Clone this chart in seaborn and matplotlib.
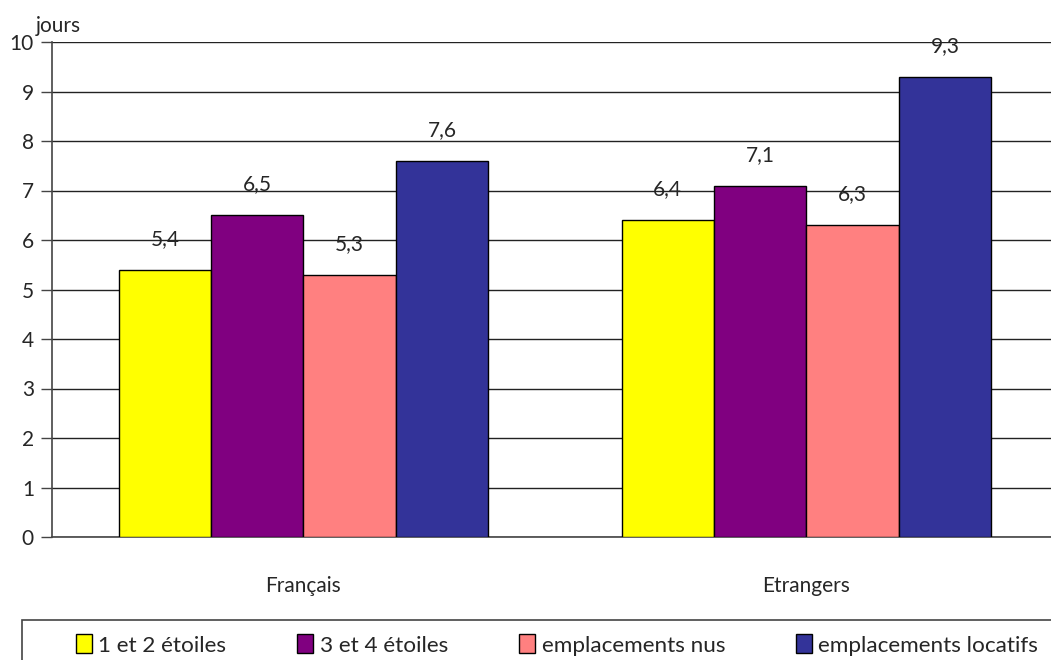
import pandas as pd
import numpy as np
import matplotlib.pyplot as plt
import seaborn as sns

origines = ['Français', 'Etrangers']
types = ['1 et 2 étoiles', '3 et 4 étoiles', 'emplacements nus', 'emplacements locatifs']
francais = [5.4, 6.5, 5.3, 7.6]
etrangers = [6.4, 7.1, 6.3, 9.3]
couleurs = ['#FFFF00', '#800080', '#FF8080', '#333399']

df = pd.DataFrame({
    'origine': [origines[0]] * 4 + [origines[1]] * 4,
    'type': types * 2,
    'jours': francais + etrangers,
})

sns.set_style('white')
plt.rcParams['font.family'] = ['Lato', 'DejaVu Sans']

fig = plt.figure(figsize=(10.51, 6.6), dpi=100)
ax = fig.add_axes([52 / 1051, 1 - 537 / 660, 1006 / 1051, 495 / 660])

sns.barplot(data=df, x='origine', y='jours', hue='type', hue_order=types,
            palette=couleurs, width=0.735, gap=0, edgecolor='black', linewidth=1,
            saturation=1, errorbar=None, ax=ax, zorder=3, legend=False)

for cont in ax.containers:
    ax.bar_label(cont, labels=[f'{v:.1f}'.replace('.', ',') for v in cont.datavalues],
                 padding=15, fontsize=15)

ax.set_ylim(0, 10)
ax.set_yticks(range(0, 11))
ax.set_yticklabels([str(i) for i in range(0, 11)], fontsize=15)
ax.yaxis.grid(True, color='#222222', linewidth=1, zorder=0)
ax.set_xlim(-0.5, 1.5)
ax.set_xticks([0, 1])
ax.set_xticklabels(origines, fontsize=15)
ax.set_xticks([-0.5, 0.5, 1.5], minor=True)
ax.tick_params(axis='x', which='major', length=0, pad=28)
ax.tick_params(axis='x', which='minor', length=8, color='#444444', width=1, direction='out')
ax.tick_params(axis='y', length=8, color='#444444', width=1, direction='out', left=True, pad=5)
ax.set_xlabel('')
ax.set_ylabel('')
for s in ['top', 'right']:
    ax.spines[s].set_visible(False)
for s in ['left', 'bottom']:
    ax.spines[s].set_color('#444444')
    ax.spines[s].set_linewidth(1.2)

ax.text(-0.016, 1.012, 'jours', transform=ax.transAxes, fontsize=15, ha='left', va='bottom')

# titre coupé en haut de l'image, comme dans l'original
fig.text(545 / 1051, 1 + 5 / 660,
         "Durée moyenne de séjour selon l'origine et le type d'emplacement",
         ha='center', va='baseline', fontsize=15)

# cadre de légende qui déborde en bas et à droite
fig.patches.append(plt.Rectangle((22 / 1051, -0.1), 1.2, 0.1 + 40 / 660,
                                 transform=fig.transFigure, fill=False,
                                 edgecolor='#444444', linewidth=1.2))
handles = [plt.Rectangle((0, 0), 1, 1, facecolor=c, edgecolor='black', linewidth=1) for c in couleurs]
leg = fig.legend(handles, types, loc='center left', ncol=4,
                 bbox_to_anchor=(76 / 1051, 1 - 645 / 660), frameon=False,
                 fontsize=16.2, handlelength=0.7, handleheight=0.9, handletextpad=0.3,
                 columnspacing=3.15, borderpad=0, borderaxespad=0)

fig.savefig('out.png', dpi=100)
